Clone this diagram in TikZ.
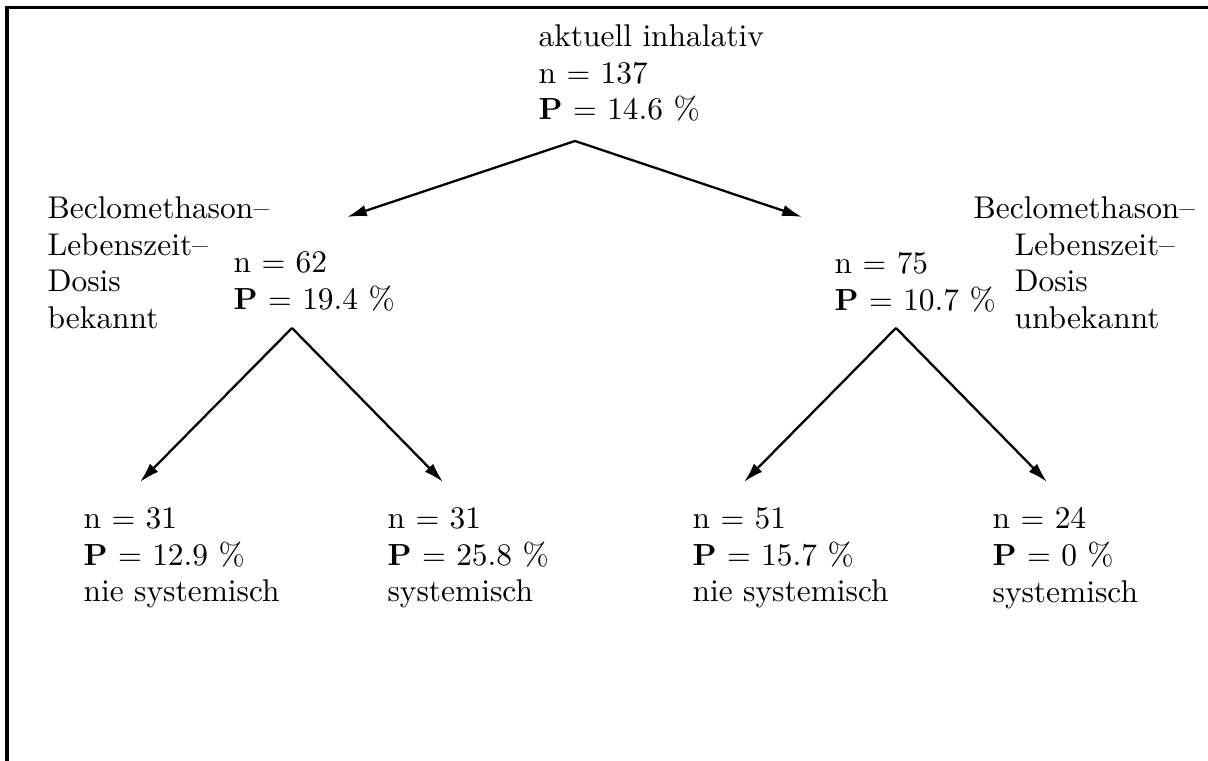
\documentclass[tikz,border=0pt]{standalone}
\usepackage{amsmath}
\usepackage{tikz}
\usetikzlibrary{arrows.meta}

\begin{document}
\begin{tikzpicture}[x=0.01152cm, y=-0.01152cm, >={Latex[length=6.5pt, width=3.8pt]},
    txt/.style={anchor=north west, align=left, inner sep=0pt, font=\fontsize{10.3}{12}\selectfont},
    branch/.style={->, line width=0.75pt}]
    \useasboundingbox (0,0) rectangle (1208,761);

    % Frame (left and top only)
    \draw[line width=1.2pt] (7,761) -- (7,7.5) -- (1208,7.5);

    % Root
    \node[txt] (root) at (538,24) {aktuell inhalativ\\n $=$ 137\\$\mathbf{P}$ $=$ 14.6 \%};
    \coordinate (rootfork) at (575,141);

    % Second level
    \node[txt] (leftlabel) at (47,196) {Beclomethason--\\Lebenszeit--\\Dosis\\bekannt};
    \node[txt] (leftmid) at (233,251) {n $=$ 62\\$\mathbf{P}$ $=$ 19.4 \%};
    \node[txt] (rightmid) at (834,252) {n $=$ 75\\$\mathbf{P}$ $=$ 10.7 \%};
    \node[txt] (rightlabel) at (1014,196) {\hspace*{-13.4pt}Beclomethason--\\Lebenszeit--\\Dosis\\unbekannt};
    \coordinate (leftin) at (347,217);
    \coordinate (rightin) at (802,217);
    \coordinate (leftfork) at (292,328);
    \coordinate (rightfork) at (896,328);

    % Leaves
    \node[txt] (ll) at (83,507) {n $=$ 31\\$\mathbf{P}$ $=$ 12.9 \%\\nie systemisch};
    \node[txt] (lr) at (387,507) {n $=$ 31\\$\mathbf{P}$ $=$ 25.8 \%\\systemisch};
    \node[txt] (rl) at (692,507) {n $=$ 51\\$\mathbf{P}$ $=$ 15.7 \%\\nie systemisch};
    \node[txt] (rr) at (992,507) {n $=$ 24\\$\mathbf{P}$ $=$ 0 \%\\systemisch};
    \coordinate (llin) at (140,482);
    \coordinate (lrin) at (443,482);
    \coordinate (rlin) at (744,482);
    \coordinate (rrin) at (1047,482);

    % Branches
    \draw[branch] (rootfork) -- (leftin);
    \draw[branch] (rootfork) -- (rightin);
    \draw[branch] (leftfork) -- (llin);
    \draw[branch] (leftfork) -- (lrin);
    \draw[branch] (rightfork) -- (rlin);
    \draw[branch] (rightfork) -- (rrin);
\end{tikzpicture}
\end{document}
